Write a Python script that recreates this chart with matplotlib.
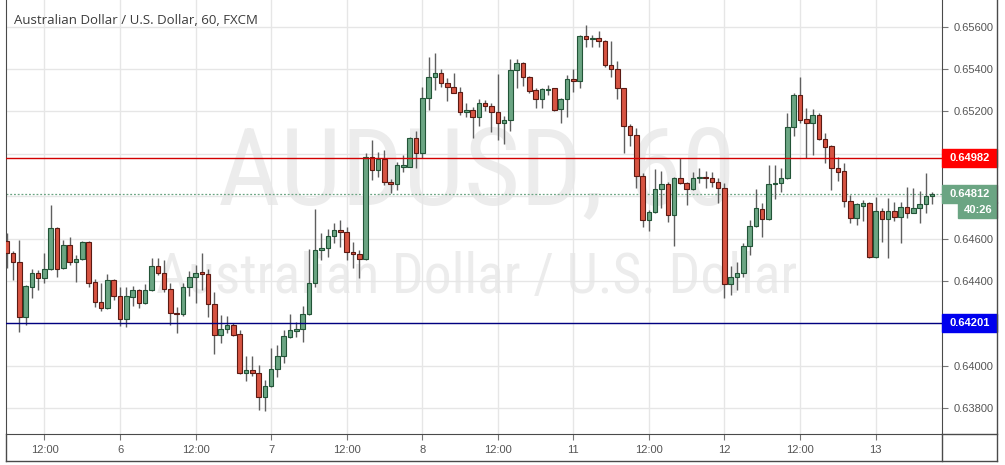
import numpy as np
import matplotlib.pyplot as plt
from matplotlib.patches import Rectangle
from matplotlib.transforms import blended_transform_factory

plt.rcParams['font.family'] = ['Liberation Sans', 'DejaVu Sans']

# AUDUSD 60 min (148 velas)
opens = [
    0.64591, 0.64533, 0.64489, 0.64229, 0.64374, 0.64437, 0.64413, 0.64456, 0.64649, 0.64460,
    0.64570, 0.64492, 0.64503, 0.64584, 0.64394, 0.64303, 0.64272, 0.64405, 0.64330, 0.64220,
    0.64326, 0.64358, 0.64295, 0.64358, 0.64471, 0.64440, 0.64361, 0.64248, 0.64245, 0.64371,
    0.64421, 0.64442, 0.64432, 0.64291, 0.64144, 0.64173, 0.64193, 0.64149, 0.63965, 0.63979,
    0.63965, 0.63852, 0.63907, 0.63984, 0.64047, 0.64138, 0.64166, 0.64173, 0.64243, 0.64390,
    0.64545, 0.64555, 0.64611, 0.64641, 0.64630, 0.64536, 0.64526, 0.64506, 0.64987, 0.64924,
    0.64977, 0.64869, 0.64857, 0.64940, 0.64940, 0.65074, 0.65003, 0.65262, 0.65361, 0.65380,
    0.65333, 0.65317, 0.65291, 0.65196, 0.65207, 0.65176, 0.65239, 0.65226, 0.65196, 0.65144,
    0.65160, 0.65396, 0.65427, 0.65364, 0.65301, 0.65258, 0.65301, 0.65309, 0.65210, 0.65258,
    0.65352, 0.65345, 0.65556, 0.65541, 0.65545, 0.65534, 0.65419, 0.65399, 0.65309, 0.65133,
    0.65089, 0.64896, 0.64688, 0.64725, 0.64833, 0.64857, 0.64712, 0.64885, 0.64861, 0.64835,
    0.64885, 0.64890, 0.64885, 0.64869, 0.64838, 0.64385, 0.64418, 0.64437, 0.64566, 0.64660,
    0.64742, 0.64692, 0.64857, 0.64861, 0.64885, 0.65126, 0.65278, 0.65163, 0.65147, 0.65184,
    0.65069, 0.65037, 0.64932, 0.64919, 0.64779, 0.64699, 0.64756, 0.64767, 0.64512, 0.64732,
    0.64692, 0.64732, 0.64701, 0.64748, 0.64723, 0.64743, 0.64763, 0.64801,
]
highs = [
    0.64627, 0.64542, 0.64594, 0.64382, 0.64457, 0.64452, 0.64534, 0.64759, 0.64654, 0.64594,
    0.64610, 0.64523, 0.64589, 0.64589, 0.64409, 0.64391, 0.64434, 0.64410, 0.64374, 0.64374,
    0.64377, 0.64363, 0.64386, 0.64508, 0.64508, 0.64500, 0.64390, 0.64279, 0.64390, 0.64449,
    0.64476, 0.64531, 0.64456, 0.64347, 0.64240, 0.64235, 0.64204, 0.64169, 0.64047, 0.64047,
    0.64004, 0.63934, 0.64083, 0.64099, 0.64169, 0.64243, 0.64209, 0.64283, 0.64550, 0.64739,
    0.64626, 0.64644, 0.64676, 0.64688, 0.64657, 0.64586, 0.64547, 0.65003, 0.65066, 0.65009,
    0.65018, 0.64880, 0.64963, 0.64995, 0.65081, 0.65108, 0.65317, 0.65459, 0.65477, 0.65399,
    0.65357, 0.65380, 0.65314, 0.65240, 0.65220, 0.65258, 0.65254, 0.65239, 0.65377, 0.65179,
    0.65446, 0.65446, 0.65432, 0.65367, 0.65309, 0.65309, 0.65325, 0.65312, 0.65262, 0.65372,
    0.65399, 0.65561, 0.65608, 0.65561, 0.65581, 0.65539, 0.65534, 0.65440, 0.65312, 0.65140,
    0.65121, 0.64908, 0.64735, 0.64927, 0.64919, 0.64869, 0.64890, 0.64979, 0.64866, 0.64916,
    0.64932, 0.64921, 0.64916, 0.64885, 0.64864, 0.64471, 0.64492, 0.64581, 0.64688, 0.64833,
    0.64770, 0.64948, 0.64948, 0.64932, 0.65192, 0.65286, 0.65364, 0.65215, 0.65210, 0.65194,
    0.65100, 0.65042, 0.64984, 0.64956, 0.64806, 0.64767, 0.64783, 0.64772, 0.64798, 0.64743,
    0.64791, 0.64775, 0.64775, 0.64845, 0.64838, 0.64825, 0.64911, 0.64820,
]
lows = [
    0.64462, 0.64405, 0.64161, 0.64193, 0.64320, 0.64358, 0.64391, 0.64452, 0.64421, 0.64455,
    0.64476, 0.64397, 0.64498, 0.64371, 0.64279, 0.64260, 0.64267, 0.64311, 0.64190, 0.64185,
    0.64283, 0.64272, 0.64290, 0.64353, 0.64429, 0.64350, 0.64193, 0.64154, 0.64235, 0.64330,
    0.64298, 0.64358, 0.64229, 0.64056, 0.64107, 0.64157, 0.64141, 0.63960, 0.63929, 0.63954,
    0.63792, 0.63787, 0.63902, 0.63949, 0.64015, 0.64133, 0.64138, 0.64114, 0.64238, 0.64374,
    0.64497, 0.64512, 0.64578, 0.64562, 0.64500, 0.64460, 0.64413, 0.64500, 0.64877, 0.64891,
    0.64853, 0.64814, 0.64830, 0.64916, 0.64937, 0.64932, 0.64979, 0.65207, 0.65301, 0.65314,
    0.65251, 0.65286, 0.65184, 0.65174, 0.65074, 0.65132, 0.65202, 0.65102, 0.65066, 0.65047,
    0.65108, 0.65309, 0.65322, 0.65289, 0.65215, 0.65215, 0.65278, 0.65204, 0.65144, 0.65173,
    0.65293, 0.65309, 0.65503, 0.65503, 0.65506, 0.65409, 0.65364, 0.65258, 0.65006, 0.65037,
    0.64838, 0.64654, 0.64638, 0.64720, 0.64746, 0.64680, 0.64566, 0.64857, 0.64759, 0.64830,
    0.64861, 0.64838, 0.64845, 0.64767, 0.64319, 0.64334, 0.64358, 0.64421, 0.64523, 0.64657,
    0.64607, 0.64688, 0.64785, 0.64822, 0.64880, 0.65084, 0.65147, 0.64979, 0.64995, 0.65066,
    0.64956, 0.64830, 0.64871, 0.64751, 0.64676, 0.64665, 0.64684, 0.64507, 0.64507, 0.64586,
    0.64508, 0.64685, 0.64581, 0.64696, 0.64720, 0.64673, 0.64723, 0.64763,
]
closes = [
    0.64531, 0.64489, 0.64229, 0.64377, 0.64437, 0.64413, 0.64456, 0.64649, 0.64456, 0.64570,
    0.64492, 0.64504, 0.64584, 0.64393, 0.64303, 0.64272, 0.64405, 0.64330, 0.64220, 0.64330,
    0.64358, 0.64295, 0.64358, 0.64471, 0.64440, 0.64361, 0.64248, 0.64243, 0.64371, 0.64421,
    0.64440, 0.64432, 0.64291, 0.64144, 0.64173, 0.64193, 0.64146, 0.63965, 0.63979, 0.63965,
    0.63852, 0.63907, 0.63984, 0.64047, 0.64141, 0.64169, 0.64173, 0.64243, 0.64390, 0.64545,
    0.64555, 0.64611, 0.64640, 0.64630, 0.64536, 0.64526, 0.64506, 0.64987, 0.64924, 0.64977,
    0.64869, 0.64857, 0.64948, 0.64948, 0.65074, 0.65003, 0.65262, 0.65361, 0.65380, 0.65333,
    0.65317, 0.65289, 0.65196, 0.65207, 0.65176, 0.65242, 0.65226, 0.65196, 0.65144, 0.65160,
    0.65396, 0.65427, 0.65364, 0.65297, 0.65258, 0.65305, 0.65306, 0.65207, 0.65258, 0.65352,
    0.65345, 0.65556, 0.65541, 0.65545, 0.65534, 0.65419, 0.65399, 0.65309, 0.65133, 0.65089,
    0.64896, 0.64688, 0.64725, 0.64833, 0.64857, 0.64712, 0.64885, 0.64861, 0.64835, 0.64885,
    0.64890, 0.64885, 0.64869, 0.64838, 0.64385, 0.64418, 0.64437, 0.64566, 0.64660, 0.64743,
    0.64692, 0.64857, 0.64861, 0.64885, 0.65126, 0.65278, 0.65160, 0.65147, 0.65184, 0.65069,
    0.65034, 0.64932, 0.64916, 0.64779, 0.64699, 0.64763, 0.64767, 0.64512, 0.64732, 0.64692,
    0.64732, 0.64701, 0.64748, 0.64723, 0.64743, 0.64763, 0.64801, 0.64812,
]

# etiquetas del eje de tiempo (una cada 12 velas)
time_labels = ['12:00', '6', '12:00', '7', '12:00', '8', '12:00', '11', '12:00', '12', '12:00', '13']
first_label_bar = 6
price_ticks = [0.638, 0.640, 0.642, 0.644, 0.646, 0.648, 0.650, 0.652, 0.654, 0.656]

resistance = 0.64982
support = 0.64201
last_price = closes[-1]
countdown = '40:26'

UP, DOWN = '#6ba583', '#d75442'
UP_EDGE, DOWN_EDGE = '#225437', '#5b1a13'
WICK = '#5f5f5f'
AXIS = '#4a4a4a'
NARROW = ['Liberation Sans Narrow', 'DejaVu Sans Condensed', 'Roboto Condensed', 'Roboto']

W, H = 1005, 465
fig = plt.figure(figsize=(W / 100, H / 100), dpi=100)
fig.patch.set_facecolor('white')

# area de velas en pixeles: x 6..942, y 0..434
x0, x1, y_top, y_bot = 6, 942.3, 0, 434.3
ax = fig.add_axes([x0 / W, 1 - y_bot / H, (x1 - x0) / W, (y_bot - y_top) / H])

n = len(closes)
idx = np.arange(n)
o = np.array(opens)
c = np.array(closes)
up = c >= o

ax.vlines(idx, lows, highs, color=WICK, lw=1, zorder=3)
body_lo = np.minimum(o, c)
body_h = np.maximum(np.abs(c - o), 0.00001)
ax.bar(idx, body_h, bottom=body_lo, width=0.72,
       color=np.where(up, UP, DOWN), edgecolor=np.where(up, UP_EDGE, DOWN_EDGE),
       linewidth=0.8, zorder=4)

ax.set_xlim(-0.11, 148.6)
ax.set_ylim(0.63677, 0.65726)

# grilla; las etiquetas tapadas por las cajas de precio quedan vacias
hidden = [resistance, support, last_price]
tick_pos = np.arange(first_label_bar, n, 12)[:len(time_labels)]
ax.set_xticks(tick_pos)
ax.set_xticklabels(time_labels)
ax.set_yticks(price_ticks)
ax.set_yticklabels(['' if min(abs(p - h) for h in hidden) < 0.0006 else f'{p:.5f}'
                    for p in price_ticks])
ax.yaxis.tick_right()
ax.grid(True, color='#e6e6e6', lw=1, zorder=0)
ax.tick_params(axis='both', length=4, width=0.8, color='#777777', labelcolor='#555555',
               labelsize=8)
ax.tick_params(axis='x', pad=4)
ax.tick_params(axis='y', pad=4)
for s in ['left', 'right', 'bottom']:
    ax.spines[s].set_color(AXIS)
ax.spines['top'].set_visible(False)

# lineas horizontales
ax.axhline(resistance, color='#d20000', lw=1, zorder=5)
ax.axhline(support, color='#000080', lw=1, zorder=5)
ax.axhline(last_price, color='#6ba583', lw=0.9, ls=(0, (1.5, 1.5)), zorder=2)

# marcas de agua
ax.text(0.503, 0.598, 'AUDUSD, 60', transform=ax.transAxes, ha='center', va='center',
        fontsize=78, color='#ececec', family=NARROW, zorder=1)
ax.text(0.503, 0.362, 'Australian Dollar / U.S. Dollar', transform=ax.transAxes,
        ha='center', va='center', fontsize=40, color='#ececec', family=NARROW, zorder=1)

# titulo
fig.text(14 / W, 1 - 20 / H, 'Australian Dollar / U.S. Dollar, 60, FXCM', ha='left',
         va='center', fontsize=9.5, color='#3c3c3c', family='Open Sans')

# etiquetas de precio a la derecha
tr = blended_transform_factory(ax.transAxes, ax.transData)
px = (0.65726 - 0.63677) / (y_bot - y_top)
col_w = (997 - x1) / (x1 - x0)


def price_box(price, color, text, dy=0, x_start=1.0, height=18):
    yc = price - dy * px
    ax.add_patch(Rectangle((x_start, yc - height / 2 * px), 1 + col_w - x_start, height * px,
                           transform=tr, color=color, clip_on=False, zorder=6))
    ax.text((x_start + 1 + col_w) / 2 + 0.0005, yc, text, transform=tr, ha='center',
            va='center', color='white', fontsize=8, fontweight='bold', clip_on=False, zorder=7)


price_box(resistance, '#ff0000', f'{resistance:.5f}')
price_box(last_price, '#6ba583', f'{last_price:.5f}')
price_box(last_price, '#6ba583', countdown, dy=16.5, x_start=1 + (958 - x1) / (x1 - x0), height=16)
price_box(support, '#0000ee', f'{support:.5f}')

# marco exterior
fig.add_artist(plt.Line2D([x0 / W, 997 / W], [1 - 461 / H] * 2, color=AXIS, lw=1))
fig.add_artist(plt.Line2D([997 / W] * 2, [1 - 461 / H, 1], color=AXIS, lw=1))
fig.add_artist(plt.Line2D([x0 / W] * 2, [1 - 461 / H, 1 - y_bot / H], color=AXIS, lw=1))
fig.add_artist(plt.Line2D([x1 / W] * 2, [1 - 461 / H, 1 - y_bot / H], color=AXIS, lw=1))
fig.add_artist(plt.Line2D([x1 / W, 997 / W], [1 - y_bot / H] * 2, color=AXIS, lw=1))

fig.savefig('out.png', dpi=100)
